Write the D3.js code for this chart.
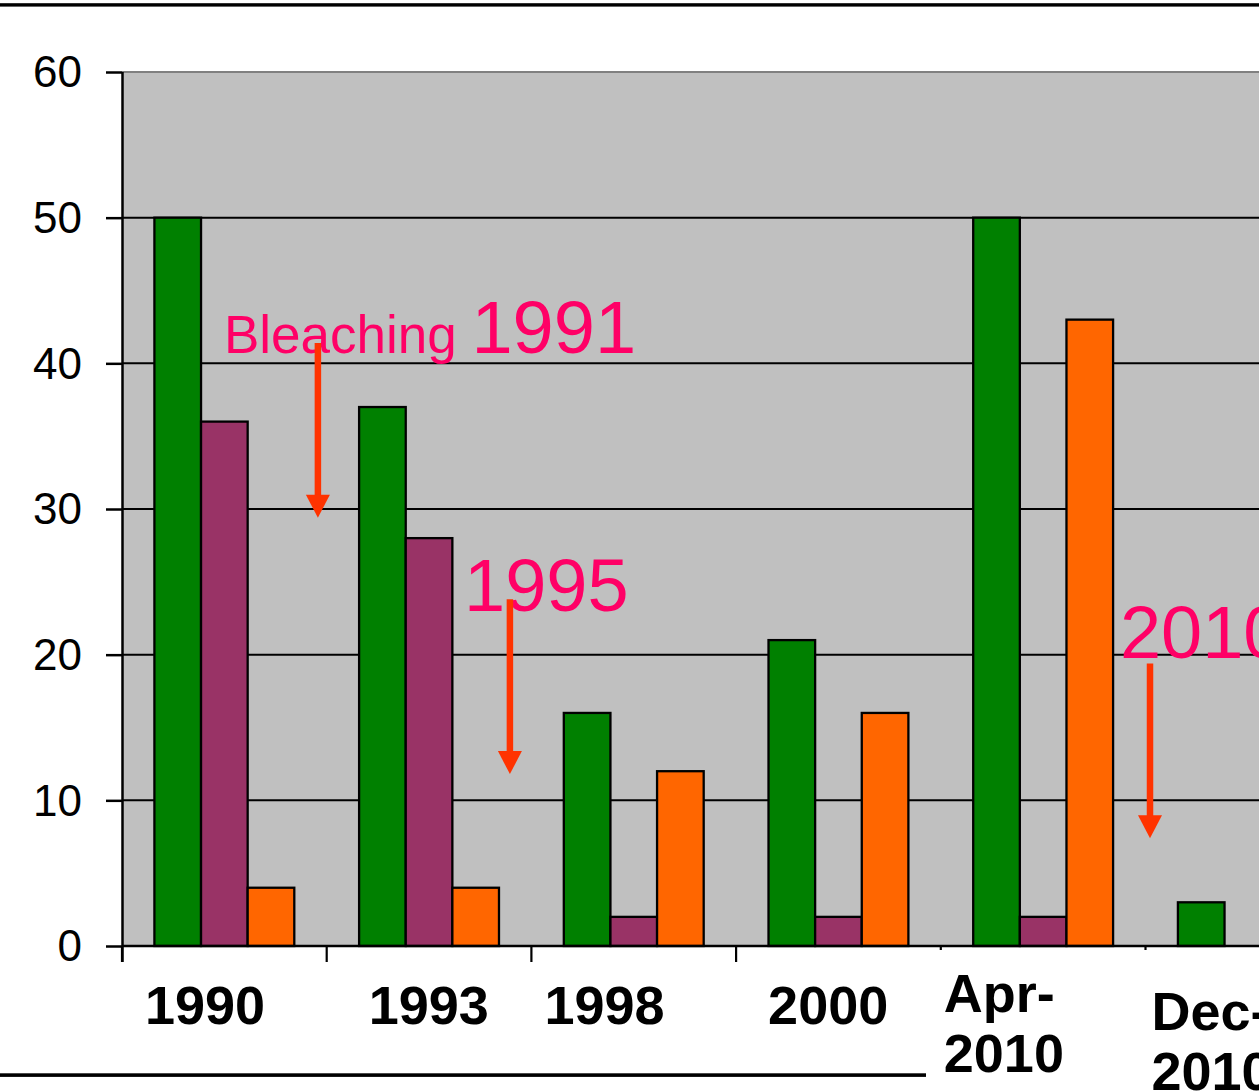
<!DOCTYPE html>
<html>
<head>
<meta charset="utf-8">
<script src="https://cdn.jsdelivr.net/npm/d3@7"></script>
<style>
  html, body { margin: 0; padding: 0; background: #fff; overflow: hidden; }
  svg { display: block; font-family: "Liberation Sans", Arial, sans-serif; }
</style>
</head>
<body>
<svg id="chart" width="1259" height="1091"></svg>
<script>
// ---- data ----
const categories = ["1990", "1993", "1998", "2000", "Apr-2010", "Dec-2010"];
const categoryLines = [["1990"], ["1993"], ["1998"], ["2000"], ["Apr-", "2010"], ["Dec-", "2010"]];
const seriesNames = ["Series 1", "Series 2", "Series 3"];
const series1 = [50, 37, 16, 21, 50, 3];
const series2 = [36, 28, 2, 2, 2, 0];
const series3 = [4, 4, 12, 16, 43, 0];
const yTicks = [0, 10, 20, 30, 40, 50, 60];

// bleaching events: label text, label anchor, arrow (x in category units, y in values)
const eventSmall = ["Bleaching ", "", ""];
const eventYears = ["1991", "1995", "2010"];
const eventLabelX = [0.498, 1.671, 4.875];
const eventLabelY = [40.7, 23.0, 19.8];
const eventArrowX = [0.957, 1.895, 5.022];
const eventArrowTop = [41.4, 23.8, 19.4];
const eventArrowTip = [29.4, 11.8, 7.4];

// ---- layout ----
const svg = d3.select("#chart");
const plotLeft = 122, step = 204.7;
const plotTop = 72, plotBottom = 946;
const plotRight = plotLeft + step * categories.length;

const x0 = d3.scaleBand().domain(categories).range([plotLeft, plotRight]).padding(0);
const x1 = d3.scaleBand().domain(seriesNames).range([0, x0.bandwidth()])
  .paddingInner(0).paddingOuter(0.695);
const y = d3.scaleLinear().domain([0, 60]).range([plotBottom, plotTop]);
const xPos = d3.scaleLinear().domain([0, categories.length]).range([plotLeft, plotRight]);

const colors = { "Series 1": "#008000", "Series 2": "#993366", "Series 3": "#FF6600" };

// page rules
svg.append("rect").attr("x", 0).attr("y", 3.2).attr("width", 1259).attr("height", 3.4).attr("fill", "#000");
svg.append("rect").attr("x", 0).attr("y", 1073.3).attr("width", 926).attr("height", 3.6).attr("fill", "#000");

// plot area
svg.append("rect").attr("x", plotLeft).attr("y", plotTop)
  .attr("width", plotRight - plotLeft).attr("height", plotBottom - plotTop).attr("fill", "#C0C0C0");

// gridlines
svg.append("g").selectAll("line").data(yTicks.filter(t => t > 0 && t < 60)).join("line")
  .attr("x1", plotLeft).attr("x2", plotRight)
  .attr("y1", d => y(d)).attr("y2", d => y(d))
  .attr("stroke", "#000").attr("stroke-width", 2);
svg.append("line").attr("x1", plotLeft).attr("x2", plotRight).attr("y1", y(60)).attr("y2", y(60))
  .attr("stroke", "#808080").attr("stroke-width", 2.2);

// bars
const rows = categories.map((c, i) => ({ cat: c, vals: [series1[i], series2[i], series3[i]] }));
const groups = svg.append("g").selectAll("g").data(rows).join("g")
  .attr("transform", d => `translate(${x0(d.cat)},0)`);
groups.selectAll("rect")
  .data(d => d.vals.map((v, k) => ({ key: seriesNames[k], v })).filter(e => e.v > 0))
  .join("rect")
  .attr("x", d => x1(d.key))
  .attr("width", x1.bandwidth())
  .attr("y", d => y(d.v))
  .attr("height", d => y(0) - y(d.v))
  .attr("fill", d => colors[d.key])
  .attr("stroke", "#000").attr("stroke-width", 2.3);

// y axis
const yAxis = svg.append("g").attr("transform", `translate(${plotLeft},0)`)
  .call(d3.axisLeft(y).tickValues(yTicks).tickSize(16).tickPadding(24).tickFormat(d3.format("d")));
yAxis.select(".domain").attr("stroke", "#000").attr("stroke-width", 2.5)
  .attr("d", `M0.5,${plotTop}V${plotBottom + 16}`);
yAxis.selectAll(".tick line").attr("stroke", "#000").attr("stroke-width", 2.5);
yAxis.selectAll(".tick text").attr("font-size", 44).attr("fill", "#000")
  .attr("font-family", "Liberation Sans, Arial, sans-serif").attr("dy", "0.34em");

// x axis (category boundaries as ticks)
const xAxis = svg.append("g").attr("transform", `translate(0,${plotBottom})`);
xAxis.append("line").attr("x1", plotLeft).attr("x2", plotRight).attr("y1", 0).attr("y2", 0)
  .attr("stroke", "#000").attr("stroke-width", 2.5);
const boundaries = categories.map((c, i) => i);
xAxis.selectAll("line.tk").data(boundaries).join("line").attr("class", "tk")
  .attr("x1", d => xPos(d)).attr("x2", d => xPos(d))
  .attr("y1", 0).attr("y2", (d, i) => i < 4 ? 16 : 4)
  .attr("stroke", "#000").attr("stroke-width", 2.2);

// category labels (left-aligned offsets inside each band, baselines per label)
const labelDx = [23, 42, 13, 32, 3, 6];
const labelBase = [[1024], [1024], [1024], [1024], [1012, 1072], [1030, 1090]];
const labels = svg.append("g").attr("font-weight", "bold").attr("font-size", 54).attr("fill", "#000");
categories.forEach((c, i) => {
  const t = labels.append("text").attr("text-anchor", "start");
  categoryLines[i].forEach((line, j) => {
    t.append("tspan").attr("x", x0(c) + labelDx[i]).attr("y", labelBase[i][j]).text(line);
  });
});

// bleaching annotations
const ann = svg.append("g");
eventYears.forEach((yr, i) => {
  const t = ann.append("text").attr("x", xPos(eventLabelX[i])).attr("y", y(eventLabelY[i]))
    .attr("fill", "#FF0066");
  if (eventSmall[i]) t.append("tspan").attr("font-size", 53).text(eventSmall[i]);
  t.append("tspan").attr("font-size", 74).text(yr);

  const ax = xPos(eventArrowX[i]);
  const tipY = y(eventArrowTip[i]);
  const headH = 23, headW = 24;
  ann.append("line").attr("x1", ax).attr("x2", ax)
    .attr("y1", y(eventArrowTop[i])).attr("y2", tipY - headH + 2)
    .attr("stroke", "#FF3300").attr("stroke-width", 6.5);
  ann.append("path")
    .attr("d", `M${ax - headW / 2},${tipY - headH}L${ax + headW / 2},${tipY - headH}L${ax},${tipY}Z`)
    .attr("fill", "#FF3300");
});
</script>
</body>
</html>
